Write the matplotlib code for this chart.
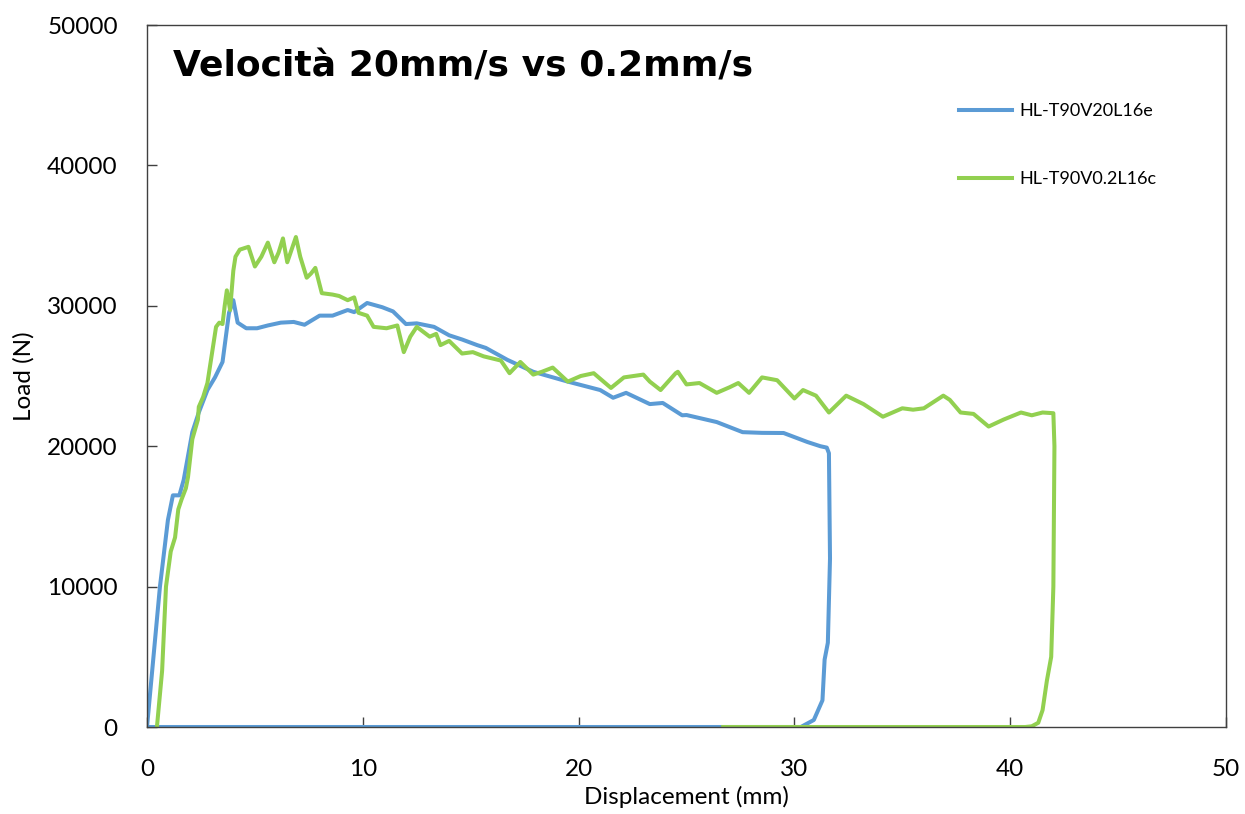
import matplotlib
matplotlib.use("Agg")
import matplotlib.pyplot as plt

# HL-T90V20L16e (20 mm/s)
blue_x = [0, 0.3, 0.6, 0.97, 1.2, 1.5, 1.7, 2.1, 2.4, 2.8, 3.15, 3.5, 3.8, 4.0, 4.2,
          4.6, 5.1, 5.6, 6.2, 6.8, 7.3, 8.0, 8.6, 9.3, 9.6, 10.2, 10.9, 11.4, 12.0,
          12.5, 13.3, 14.0, 14.6, 15.3, 15.7, 16.7, 17.9, 19.5, 21.0, 21.6, 22.2,
          23.3, 23.9, 24.8, 25.0, 26.4, 27.6, 28.5, 29.5, 30.6, 31.2, 31.5, 31.6,
          31.65, 31.55, 31.4, 31.3, 30.9, 30.3, 0]
blue_y = [0, 5000, 10000, 14750, 16500, 16500, 17600, 21000, 22400, 24000, 24900,
          26000, 29500, 30400, 28800, 28400, 28400, 28600, 28800, 28850, 28650,
          29300, 29300, 29700, 29550, 30200, 29900, 29600, 28700, 28750, 28500,
          27900, 27600, 27200, 27000, 26150, 25300, 24600, 24000, 23450, 23800,
          23000, 23080, 22200, 22220, 21720, 21000, 20950, 20940, 20300, 20000,
          19900, 19500, 12000, 6000, 4800, 1900, 500, 0, 0]

# HL-T90V0.2L16c (0.2 mm/s)
green_x = [0.46, 0.7, 0.88, 1.1, 1.3, 1.45, 1.6, 1.8, 1.9, 2.1, 2.36, 2.4, 2.6, 2.8,
           3.0, 3.2, 3.35, 3.5, 3.6, 3.7, 3.85, 4.0, 4.1, 4.3, 4.7, 5.0, 5.3, 5.6,
           5.9, 6.1, 6.3, 6.5, 6.7, 6.9, 7.1, 7.4, 7.6, 7.8, 8.1, 8.6, 8.9, 9.3,
           9.6, 9.8, 10.2, 10.5, 11.1, 11.6, 11.9, 12.2, 12.5, 13.1, 13.4, 13.6,
           14.0, 14.6, 15.1, 15.6, 16.4, 16.8, 17.3, 17.9, 18.3, 18.8, 19.5, 20.1,
           20.7, 21.5, 22.1, 23.0, 23.3, 23.8, 24.5, 24.6, 25.0, 25.6, 26.4, 27.0,
           27.4, 27.9, 28.5, 29.2, 30.0, 30.4, 31.0, 31.6, 32.4, 33.2, 34.1, 35.0,
           35.5, 36.0, 36.9, 37.2, 37.7, 38.3, 39.0, 39.7, 40.5, 41.0, 41.5, 42.0,
           42.05, 42.0, 41.9, 41.7, 41.5, 41.3, 41.0, 40.7, 26.7]
green_y = [0, 4000, 10000, 12500, 13500, 15500, 16200, 17000, 17800, 20500, 21900,
           22800, 23500, 24500, 26500, 28500, 28800, 28700, 30000, 31100, 29700,
           32500, 33500, 34000, 34200, 32800, 33500, 34500, 33100, 33800, 34800,
           33100, 34000, 34900, 33500, 32000, 32300, 32700, 30900, 30800, 30700,
           30400, 30600, 29500, 29300, 28500, 28400, 28600, 26700, 27800, 28500,
           27800, 28000, 27200, 27500, 26600, 26700, 26400, 26100, 25200, 26000,
           25100, 25300, 25600, 24600, 25000, 25200, 24150, 24900, 25100, 24600,
           24000, 25200, 25300, 24400, 24500, 23800, 24200, 24500, 23800, 24900,
           24700, 23400, 24000, 23600, 22400, 23600, 23000, 22100, 22700, 22600,
           22700, 23600, 23300, 22400, 22300, 21400, 21900, 22400, 22200, 22400,
           22350, 20000, 10000, 5000, 3300, 1200, 300, 50, 0, 0]

labels = ["HL-T90V20L16e", "HL-T90V0.2L16c"]
colors = ["#5B9BD5", "#92D050"]
x_ticks = [0, 10, 20, 30, 40, 50]
y_ticks = [0, 10000, 20000, 30000, 40000, 50000]

plt.rcParams['font.family'] = ['Lato', 'DejaVu Sans']

fig = plt.figure(figsize=(12.45, 8.14), dpi=100)
ax = fig.add_axes([147 / 1245, 1 - 727 / 814, 1079 / 1245, 702 / 814])

ax.plot(blue_x, blue_y, color=colors[0], lw=2.9, label=labels[0], solid_joinstyle='round')
ax.plot(green_x, green_y, color=colors[1], lw=2.9, label=labels[1], solid_joinstyle='round')

ax.set_xlim(0, 50)
ax.set_ylim(0, 50000)
ax.set_xticks(x_ticks)
ax.set_yticks(y_ticks)
ax.tick_params(direction='in', length=7, width=1, labelsize=17.5, color='#404040')
ax.tick_params(axis='y', pad=21)
ax.tick_params(axis='x', pad=23)
for s in ax.spines.values():
    s.set_color('#404040')
    s.set_linewidth(1)

ax.set_xlabel('Displacement (mm)', fontsize=17.5, labelpad=4)
ax.set_ylabel('Load (N)', fontsize=17.5, labelpad=9)

ax.text(0.024, 0.926, 'Velocità 20mm/s vs 0.2mm/s', transform=ax.transAxes,
        fontsize=26, fontweight='bold', va='baseline', ha='left',
        family=['DejaVu Sans'])

ax.legend(loc='upper left', bbox_to_anchor=(0.753, 0.889), frameon=False,
          fontsize=13, borderpad=0, borderaxespad=0, labelspacing=2.9,
          handlelength=2.9, handletextpad=0.4)

fig.savefig('out.png', dpi=100)
